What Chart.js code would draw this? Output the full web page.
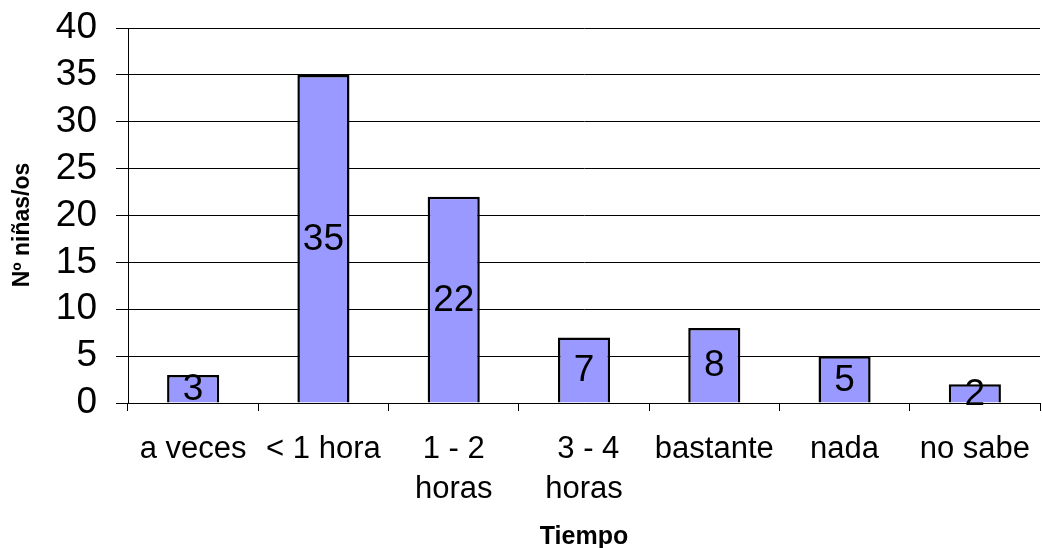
<!DOCTYPE html>
<html>
<head>
<meta charset="utf-8">
<script src="https://cdn.jsdelivr.net/npm/chart.js@4"></script>
<style>
html,body{margin:0;padding:0;background:#fff;}
#wrap{width:1042px;height:548px;}
</style>
</head>
<body>
<div id="wrap"><canvas id="c" width="1042" height="548"></canvas></div>
<script>
const categories = ['a veces', '< 1 hora', ['1 - 2', 'horas'], [' 3 - 4', 'horas'], 'bastante', 'nada', 'no sabe'];
const values = [3, 35, 22, 7, 8, 5, 2];
const yTicks = [0, 5, 10, 15, 20, 25, 30, 35, 40];
const xTitle = 'Tiempo';
const yTitle = 'Nº niñas/os';

const FONT = '"Liberation Sans", Arial, sans-serif';

const labelPlugin = {
  id: 'labels',
  afterDatasetsDraw(chart) {
    const ctx = chart.ctx;
    const meta = chart.getDatasetMeta(0);
    ctx.save();
    ctx.font = '37px ' + FONT;
    ctx.fillStyle = '#000';
    ctx.textAlign = 'center';
    ctx.textBaseline = 'middle';
    meta.data.forEach((bar, i) => {
      const p = bar.getProps(['x', 'y', 'base'], true);
      ctx.fillText(String(values[i]), p.x, (p.y + p.base) / 2 + 1);
    });
    ctx.restore();
  },
  afterDraw(chart) {
    const ctx = chart.ctx;
    const a = chart.chartArea;
    ctx.save();
    ctx.fillStyle = '#000';
    ctx.textAlign = 'center';
    ctx.textBaseline = 'middle';
    ctx.font = 'bold 25px ' + FONT;
    ctx.fillText(xTitle, (a.left + a.right) / 2, 537);
    ctx.font = 'bold 23px ' + FONT;
    ctx.translate(23, 225);
    ctx.rotate(-Math.PI / 2);
    ctx.fillText(yTitle, 0, 0);
    ctx.restore();
  }
};

new Chart(document.getElementById('c'), {
  type: 'bar',
  data: {
    labels: categories,
    datasets: [{
      data: values,
      backgroundColor: '#9999FF',
      borderColor: '#000000',
      borderWidth: 2.5,
      categoryPercentage: 1.0,
      barPercentage: 0.4
    }]
  },
  options: {
    responsive: false,
    animation: false,
    devicePixelRatio: 1,
    layout: { autoPadding: false, padding: { left: 0, right: 2, top: 28, bottom: 0 } },
    plugins: { legend: { display: false }, tooltip: { enabled: false } },
    scales: {
      x: {
        afterFit(s) { s.height = 145; s.paddingLeft = 0; s.paddingRight = 0; },
        grid: { offset: true, drawOnChartArea: false, drawTicks: true, tickLength: 8, color: '#000', lineWidth: 1 },
        border: { display: true, color: '#000', width: 1 },
        ticks: {
          color: '#000',
          font: { family: FONT, size: 31, lineHeight: 1.29 },
          padding: 18,
          maxRotation: 0,
          minRotation: 0,
          autoSkip: false
        }
      },
      y: {
        min: 0,
        max: 40,
        afterFit(s) { s.width = 128; s.paddingTop = 0; s.paddingBottom = 0; },
        afterBuildTicks(s) { s.ticks = yTicks.map(v => ({ value: v })); },
        grid: { color: '#000', lineWidth: 1, tickLength: 12, drawTicks: true },
        border: { display: true, color: '#000', width: 1 },
        ticks: {
          color: '#000',
          font: { family: FONT, size: 37 },
          padding: 19,
          autoSkip: false
        }
      }
    }
  },
  plugins: [labelPlugin]
});
</script>
</body>
</html>
